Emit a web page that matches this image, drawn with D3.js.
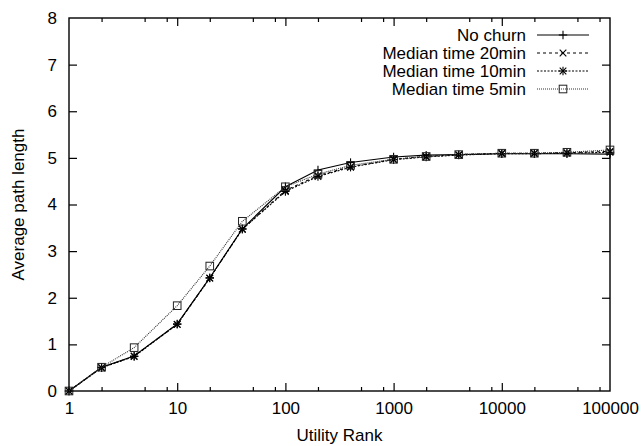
<!DOCTYPE html>
<html>
<head>
<meta charset="utf-8">
<script src="https://cdn.jsdelivr.net/npm/d3@7"></script>
<style>
  body { margin: 0; background: #fff; }
  text { font-family: "Liberation Sans", Arial, Helvetica, sans-serif; fill: #000; }
</style>
</head>
<body>
<svg id="chart" width="644" height="446"></svg>
<script>
// Utility rank (x) and average path length for each churn setting
const ranks = [1, 2, 4, 10, 20, 40, 100, 200, 400, 1000, 2000, 4000, 10000, 20000, 40000, 100000];
const noChurn   = [0, 0.51, 0.75, 1.44, 2.43, 3.48, 4.38, 4.74, 4.90, 5.02, 5.06, 5.07, 5.09, 5.09, 5.09, 5.08];
const median20  = [0, 0.50, 0.75, 1.43, 2.42, 3.47, 4.30, 4.62, 4.81, 4.97, 5.03, 5.07, 5.10, 5.10, 5.11, 5.14];
const median10  = [0, 0.50, 0.74, 1.43, 2.42, 3.47, 4.28, 4.60, 4.80, 4.96, 5.02, 5.06, 5.09, 5.09, 5.10, 5.12];
const median5   = [0, 0.51, 0.93, 1.83, 2.68, 3.64, 4.38, 4.65, 4.84, 4.97, 5.03, 5.07, 5.10, 5.10, 5.12, 5.17];
const seriesNames = ["No churn", "Median time 20min", "Median time 10min", "Median time 5min"];
const xTickValues = [1, 10, 100, 1000, 10000, 100000];
const xMinorSteps = [2, 5, 8];
const yTickValues = [0, 1, 2, 3, 4, 5, 6, 7, 8];
const xTitle = "Utility Rank";
const yTitle = "Average path length";

const series = [
  { name: seriesNames[0], values: noChurn,  dash: null,    stroke: "#000", marker: "plus" },
  { name: seriesNames[1], values: median20, dash: "3,3",   stroke: "#000", marker: "cross" },
  { name: seriesNames[2], values: median10, dash: "2,1.5", stroke: "#000", marker: "star" },
  { name: seriesNames[3], values: median5,  dash: "1,1",   stroke: "#333", marker: "square" }
];

const svg = d3.select("#chart");
const plotLeft = 69, plotRight = 610, plotTop = 18, plotBottom = 391;
const fontSize = 17;

const x = d3.scaleLog().domain([1, 100000]).range([plotLeft, plotRight]);
const y = d3.scaleLinear().domain([0, 8]).range([plotBottom, plotTop]);

const minorTicks = [];
for (let d = 1; d < 100000; d *= 10) xMinorSteps.forEach(s => minorTicks.push(d * s));

// Bottom axis with labels, ticks pointing into the plot
const gx = svg.append("g").attr("transform", `translate(0,${plotBottom})`)
  .call(d3.axisBottom(x).tickValues(xTickValues).tickFormat(d3.format("d"))
    .tickSizeInner(-8).tickSizeOuter(0).tickPadding(11));
const gxMinor = svg.append("g").attr("transform", `translate(0,${plotBottom})`)
  .call(d3.axisBottom(x).tickValues(minorTicks).tickFormat("").tickSizeInner(-4).tickSizeOuter(0));
// Mirrored ticks on top
const gxTop = svg.append("g").attr("transform", `translate(0,${plotTop})`)
  .call(d3.axisTop(x).tickValues(xTickValues).tickFormat("").tickSizeInner(-8).tickSizeOuter(0));
const gxTopMinor = svg.append("g").attr("transform", `translate(0,${plotTop})`)
  .call(d3.axisTop(x).tickValues(minorTicks).tickFormat("").tickSizeInner(-4).tickSizeOuter(0));

// Left axis with labels, mirrored right axis
const gy = svg.append("g").attr("transform", `translate(${plotLeft},0)`)
  .call(d3.axisLeft(y).tickValues(yTickValues).tickFormat(d3.format("d"))
    .tickSizeInner(-8).tickSizeOuter(0).tickPadding(12));
const gyRight = svg.append("g").attr("transform", `translate(${plotRight},0)`)
  .call(d3.axisRight(y).tickValues(yTickValues).tickFormat("").tickSizeInner(-8).tickSizeOuter(0));

[gx, gxMinor, gxTop, gxTopMinor, gy, gyRight].forEach(g => {
  g.select(".domain").remove();
  g.selectAll(".tick line").attr("stroke", "#000").attr("stroke-width", 1.2);
  g.selectAll(".tick text").attr("font-size", fontSize)
    .attr("font-family", '"Liberation Sans", Arial, sans-serif').attr("fill", "#000");
});
// Ticks on the frame corners are hidden by the frame itself
[gy, gyRight].forEach(g => g.selectAll(".tick line").filter(d => d === 0 || d === 8).remove());
[gx, gxTop].forEach(g => g.selectAll(".tick line").filter(d => d === 1 || d === 100000).remove());

// Frame
svg.append("rect")
  .attr("x", plotLeft).attr("y", plotTop)
  .attr("width", plotRight - plotLeft).attr("height", plotBottom - plotTop)
  .attr("fill", "none").attr("stroke", "#000").attr("stroke-width", 1.4);

// Axis titles
svg.append("text")
  .attr("x", (plotLeft + plotRight) / 2).attr("y", 441)
  .attr("text-anchor", "middle").attr("font-size", fontSize)
  .text(xTitle);
svg.append("text")
  .attr("transform", `translate(24,${(plotTop + plotBottom) / 2}) rotate(-90)`)
  .attr("text-anchor", "middle").attr("font-size", fontSize)
  .text(yTitle);

// Marker shapes in gnuplot style
function drawMarker(g, kind, cx, cy) {
  const s = 4.2;
  const line = (x1, y1, x2, y2) => g.append("line")
    .attr("x1", x1).attr("y1", y1).attr("x2", x2).attr("y2", y2)
    .attr("stroke", "#000").attr("stroke-width", 1.1);
  if (kind === "plus" || kind === "star") {
    line(cx - s, cy, cx + s, cy);
    line(cx, cy - s, cx, cy + s);
  }
  if (kind === "cross" || kind === "star") {
    const c = 3.3;
    line(cx - c, cy - c, cx + c, cy + c);
    line(cx - c, cy + c, cx + c, cy - c);
  }
  if (kind === "square") {
    g.append("rect").attr("x", cx - 3.8).attr("y", cy - 3.8)
      .attr("width", 7.6).attr("height", 7.6)
      .attr("fill", "none").attr("stroke", "#222").attr("stroke-width", 1);
  }
}

const lineGen = d3.line().x(d => x(d[0])).y(d => y(d[1]));
const plot = svg.append("g");

series.forEach(s => {
  const pts = ranks.map((r, i) => [r, s.values[i]]);
  plot.append("path")
    .attr("d", lineGen(pts))
    .attr("fill", "none")
    .attr("stroke", s.stroke)
    .attr("stroke-width", 1.1)
    .attr("stroke-dasharray", s.dash);
  const mg = plot.append("g");
  pts.forEach(p => drawMarker(mg, s.marker, x(p[0]), y(p[1])));
});

// Legend, top right inside the frame
const legend = svg.append("g");
series.forEach((s, i) => {
  const cy = 35 + i * 18;
  legend.append("text")
    .attr("x", 526).attr("y", cy + 6)
    .attr("text-anchor", "end").attr("font-size", fontSize)
    .text(s.name);
  legend.append("line")
    .attr("x1", 537).attr("x2", 589).attr("y1", cy).attr("y2", cy)
    .attr("stroke", s.stroke).attr("stroke-width", 1.1)
    .attr("stroke-dasharray", s.dash);
  drawMarker(legend, s.marker, 563, cy);
});
</script>
</body>
</html>
